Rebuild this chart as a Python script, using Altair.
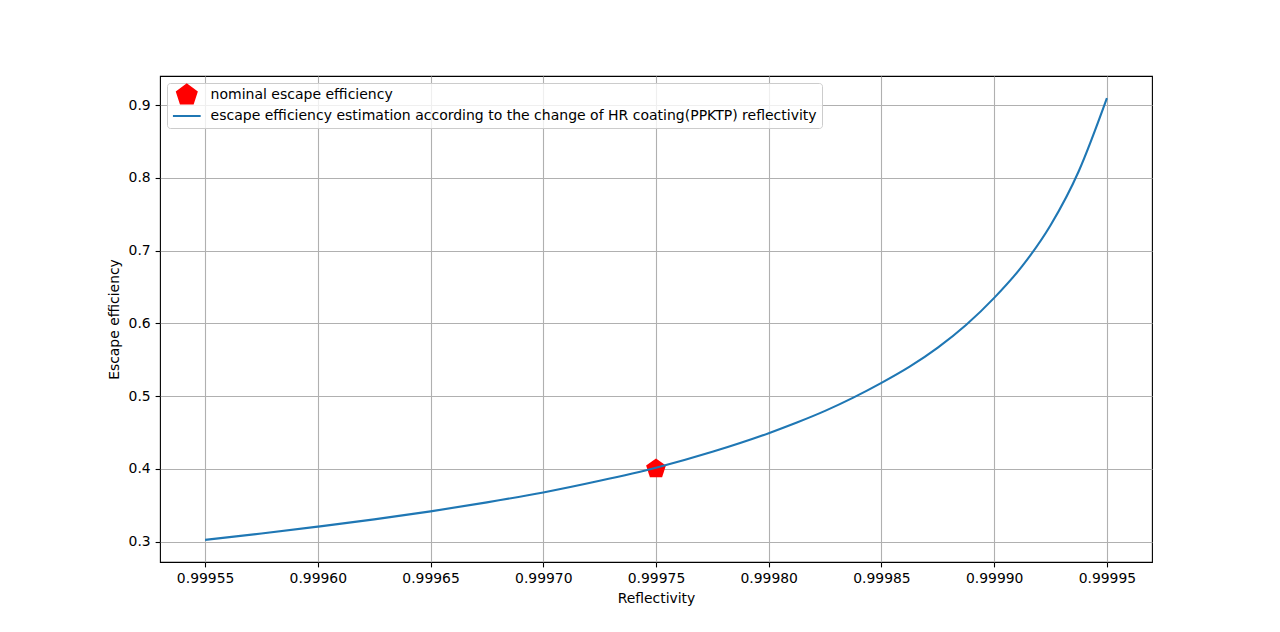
import altair as alt
import pandas as pd

# ---- data ----
reflectivity = [0.99955, 0.999575, 0.99960, 0.999625, 0.99965, 0.999675, 0.99970,
                0.999725, 0.99975, 0.999775, 0.99980, 0.9998125, 0.999825,
                0.9998375, 0.99985, 0.9998625, 0.999875, 0.9998875, 0.99990,
                0.9999125, 0.999925, 0.9999375, 0.99995]
efficiency = [0.3023, 0.3110, 0.3205, 0.3305, 0.3415, 0.3539, 0.3675,
              0.3835, 0.4015, 0.4234, 0.4490, 0.4636, 0.4796,
              0.4978, 0.5181, 0.5404, 0.5666, 0.5977, 0.6350,
              0.6789, 0.7348, 0.8091, 0.9096]
nominal_R = [0.99975]
nominal_eta = [0.40]

point_label = "nominal escape efficiency"
line_label = "escape efficiency estimation according to the change of HR coating(PPKTP) reflectivity"
series_labels = [point_label, line_label]
series_colors = ["#ff0000", "#1f77b4"]

x_ticks = [0.99955, 0.99960, 0.99965, 0.99970, 0.99975, 0.99980, 0.99985, 0.99990, 0.99995]
y_ticks = [0.3, 0.4, 0.5, 0.6, 0.7, 0.8, 0.9]

pentagon = "M0,-2L1.902,-0.618L1.176,1.618L-1.176,1.618L-1.902,-0.618Z"
hline = "M-2.67,0L2.67,0"

line_df = pd.DataFrame({"R": reflectivity, "eta": efficiency, "series": line_label})
pt_df = pd.DataFrame({"R": nominal_R, "eta": nominal_eta, "series": point_label})

FONT = "DejaVu Sans"

leg = alt.Legend(
    title=None, orient="none", legendX=7, legendY=7, direction="vertical", columns=1,
    padding=5, symbolOffset=7.8, labelOffset=16.8, rowPadding=1,
    symbolSize=108, symbolStrokeWidth=2, labelLimit=2000,
    strokeColor="#cccccc", fillColor="rgba(255,255,255,0.8)", cornerRadius=3,
    labelFont=FONT, labelFontSize=14, labelColor="black",
)

x_enc = alt.X("R:Q",
              scale=alt.Scale(domain=[0.99953, 0.99997], nice=False, zero=False),
              axis=alt.Axis(values=x_ticks, format=".5f", title="Reflectivity"))
y_enc = alt.Y("eta:Q",
              scale=alt.Scale(domain=[0.2719, 0.9400], nice=False, zero=False),
              axis=alt.Axis(values=y_ticks, format=".1f", title="Escape efficiency"))
color_enc = alt.Color("series:N",
                      scale=alt.Scale(domain=series_labels, range=series_colors),
                      legend=leg)
shape_enc = alt.Shape("series:N",
                      scale=alt.Scale(domain=series_labels, range=[pentagon, hline]),
                      legend=leg)

points = alt.Chart(pt_df).mark_point(filled=True, size=108, opacity=1).encode(
    x=x_enc, y=y_enc, color=color_enc, shape=shape_enc)

curve = alt.Chart(line_df).mark_line(strokeWidth=2.1, interpolate="monotone").encode(
    x=x_enc, y=y_enc, color=color_enc)

chart = alt.layer(points, curve).properties(
    width=992, height=486,
    autosize=alt.AutoSizeParams(type="none"),
    padding={"left": 152, "top": 68, "right": 120, "bottom": 62},
).configure_view(
    stroke="black", strokeWidth=1.1
).configure_axis(
    domain=False,
    grid=True, gridColor="#b0b0b0", gridWidth=1.1,
    tickColor="black", tickSize=4.9, tickWidth=1.1,
    labelFont=FONT, labelFontSize=13.9, labelColor="black", labelPadding=4.9,
    titleFont=FONT, titleFontSize=13.9, titleColor="black", titleFontWeight="normal",
).configure_axisX(
    titlePadding=6
).configure_axisY(
    titlePadding=7
)

chart.save("out.html", embed_options={"renderer": "svg", "actions": False})
